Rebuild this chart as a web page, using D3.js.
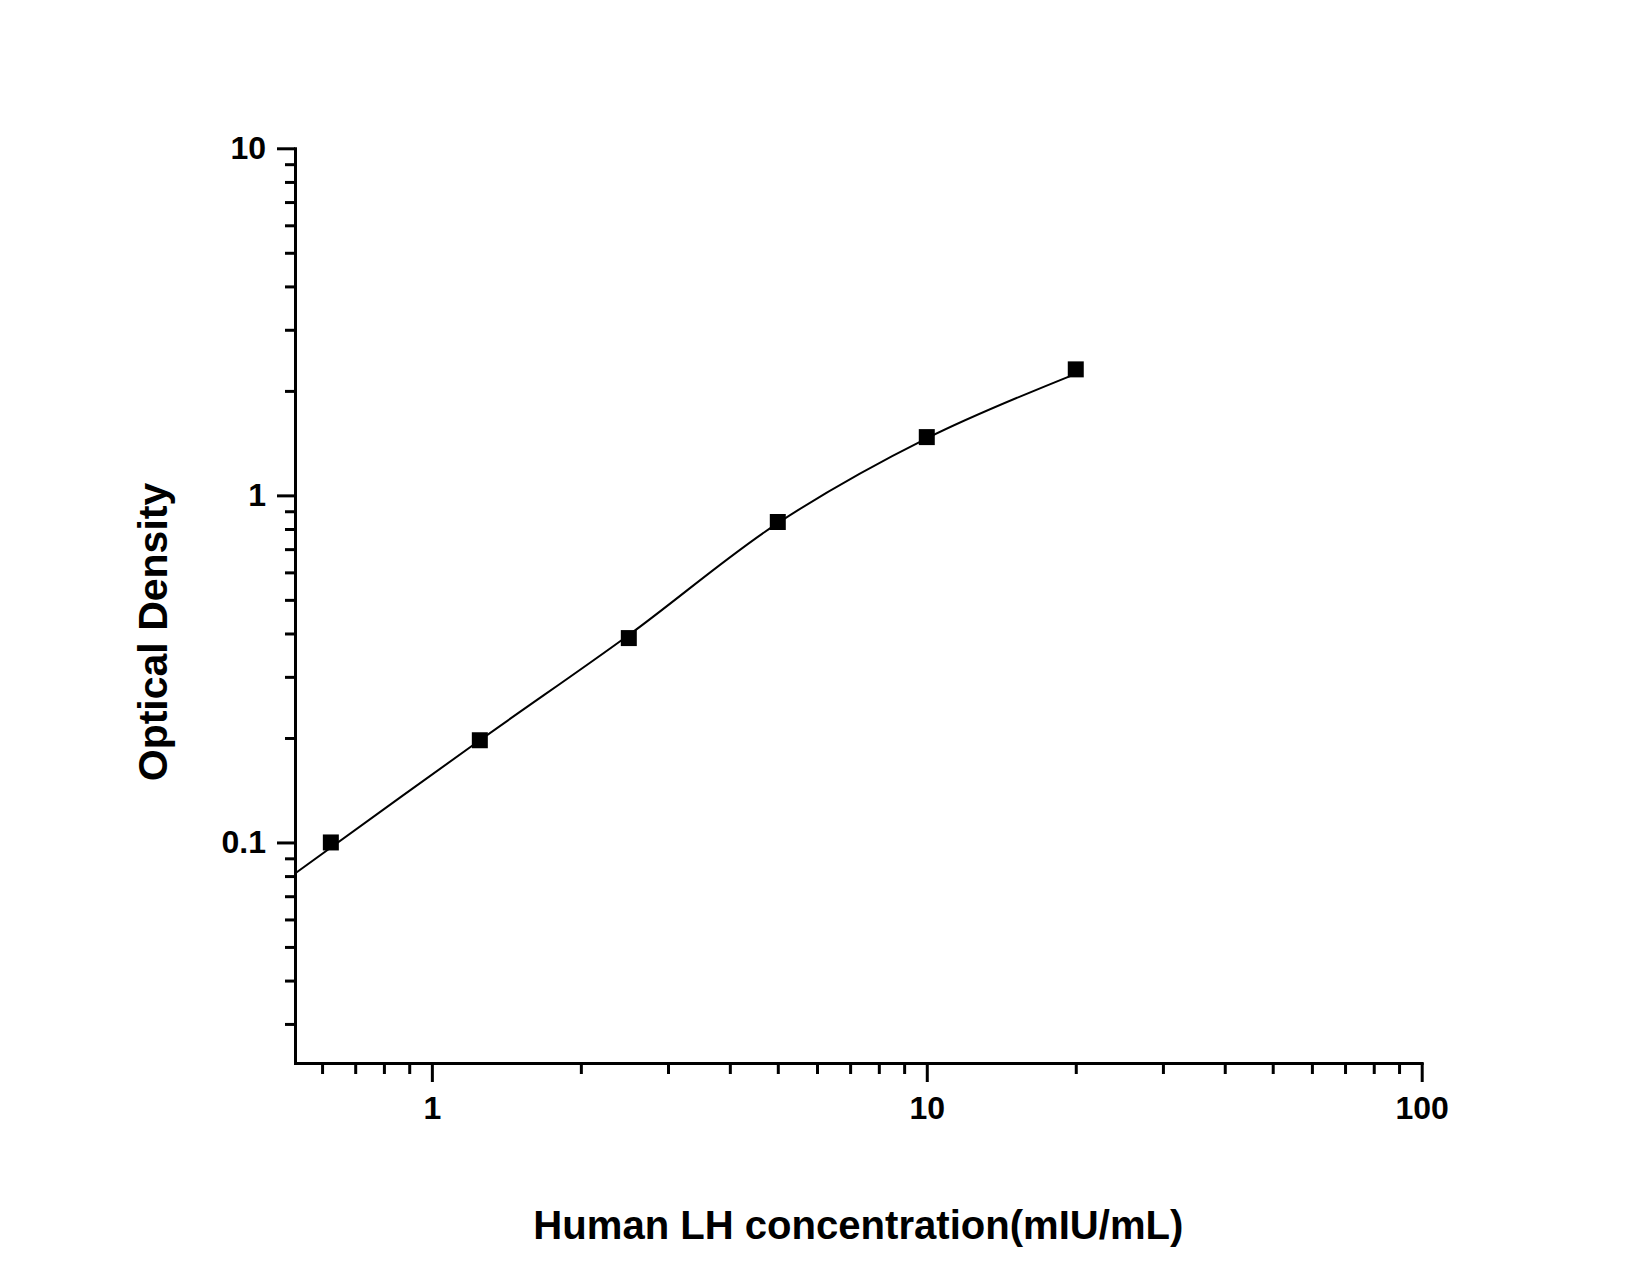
<!DOCTYPE html>
<html>
<head>
<meta charset="utf-8">
<script src="https://cdn.jsdelivr.net/npm/d3@7"></script>
<style>
  html, body { margin: 0; padding: 0; background: #fff; }
  svg text { font-family: Arial, "Liberation Sans", sans-serif; font-weight: bold; fill: #000; }
</style>
</head>
<body>
<svg id="chart" width="1650" height="1275"></svg>
<script>
// standard points (concentration mIU/mL, OD)
const concentrations = [0.625, 1.25, 2.5, 5, 10, 20];
const densities = [0.100, 0.197, 0.388, 0.838, 1.472, 2.307];

// fitted curve
const curveConc = [0.529, 1.25, 2.5, 5, 10, 20];
const curveOD = [0.0814, 0.197, 0.396, 0.832, 1.46, 2.24];

const xMajor = [1, 10, 100];
const xMinor = [0.6, 0.7, 0.8, 0.9, 2, 3, 4, 5, 6, 7, 8, 9, 20, 30, 40, 50, 60, 70, 80, 90];
const yMajor = [0.1, 1, 10];
const yMinor = [0.03, 0.04, 0.05, 0.06, 0.07, 0.08, 0.09,
                0.2, 0.3, 0.4, 0.5, 0.6, 0.7, 0.8, 0.9,
                2, 3, 4, 5, 6, 7, 8, 9];

(() => {
  const svg = d3.select("#chart");

  const plotLeft = 295, plotRight = 1421.7, plotTop = 148.3, plotBottom = 1063;

  const x = d3.scaleLog().domain([0.529, 100]).range([plotLeft, plotRight]);
  const y = d3.scaleLog().domain([0.02315, 10]).range([plotBottom, plotTop]);

  const fmt = d => String(d);

  // y axis
  const yAxis = svg.append("g").attr("transform", `translate(${plotLeft},0)`);
  yAxis.call(d3.axisLeft(y).tickValues(yMajor).tickFormat(fmt).tickSize(18).tickSizeOuter(0).tickPadding(11));
  yAxis.append("g").call(d3.axisLeft(y).tickValues(yMinor).tickFormat("").tickSize(10).tickSizeOuter(0))
    .select(".domain").remove();

  // x axis
  const xAxis = svg.append("g").attr("transform", `translate(0,${plotBottom})`);
  xAxis.call(d3.axisBottom(x).tickValues(xMajor).tickFormat(fmt).tickSize(19).tickSizeOuter(0).tickPadding(14));
  xAxis.append("g").call(d3.axisBottom(x).tickValues(xMinor).tickFormat("").tickSize(11).tickSizeOuter(0))
    .select(".domain").remove();

  svg.selectAll(".domain").attr("stroke", "#000").attr("stroke-width", 3).attr("stroke-linecap", "square");
  svg.selectAll(".tick line").attr("stroke", "#000").attr("stroke-width", 3);
  svg.selectAll(".tick text")
    .attr("fill", "#000")
    .style("font-size", "32px")
    .style("font-family", "Arial, 'Liberation Sans', sans-serif")
    .style("font-weight", "bold");

  // fitted curve
  const line = d3.line()
    .x((d, i) => x(curveConc[i]))
    .y(d => y(d))
    .curve(d3.curveCatmullRom);

  svg.append("path")
    .datum(curveOD)
    .attr("fill", "none")
    .attr("stroke", "#000")
    .attr("stroke-width", 2)
    .attr("d", line);

  // markers
  svg.append("g")
    .selectAll("path")
    .data(densities)
    .join("path")
    .attr("transform", (d, i) => `translate(${x(concentrations[i])},${y(d)})`)
    .attr("d", d3.symbol(d3.symbolSquare, 256))
    .attr("fill", "#000");

  // axis titles
  svg.append("text")
    .attr("x", (plotLeft + plotRight) / 2)
    .attr("y", 1239)
    .attr("text-anchor", "middle")
    .style("font-size", "41px")
    .attr("textLength", 650)
    .attr("lengthAdjust", "spacingAndGlyphs")
    .text("Human LH concentration(mIU/mL)");

  svg.append("text")
    .attr("transform", "translate(167,632) rotate(-90)")
    .attr("text-anchor", "middle")
    .style("font-size", "41px")
    .text("Optical Density");
})();
</script>
</body>
</html>
